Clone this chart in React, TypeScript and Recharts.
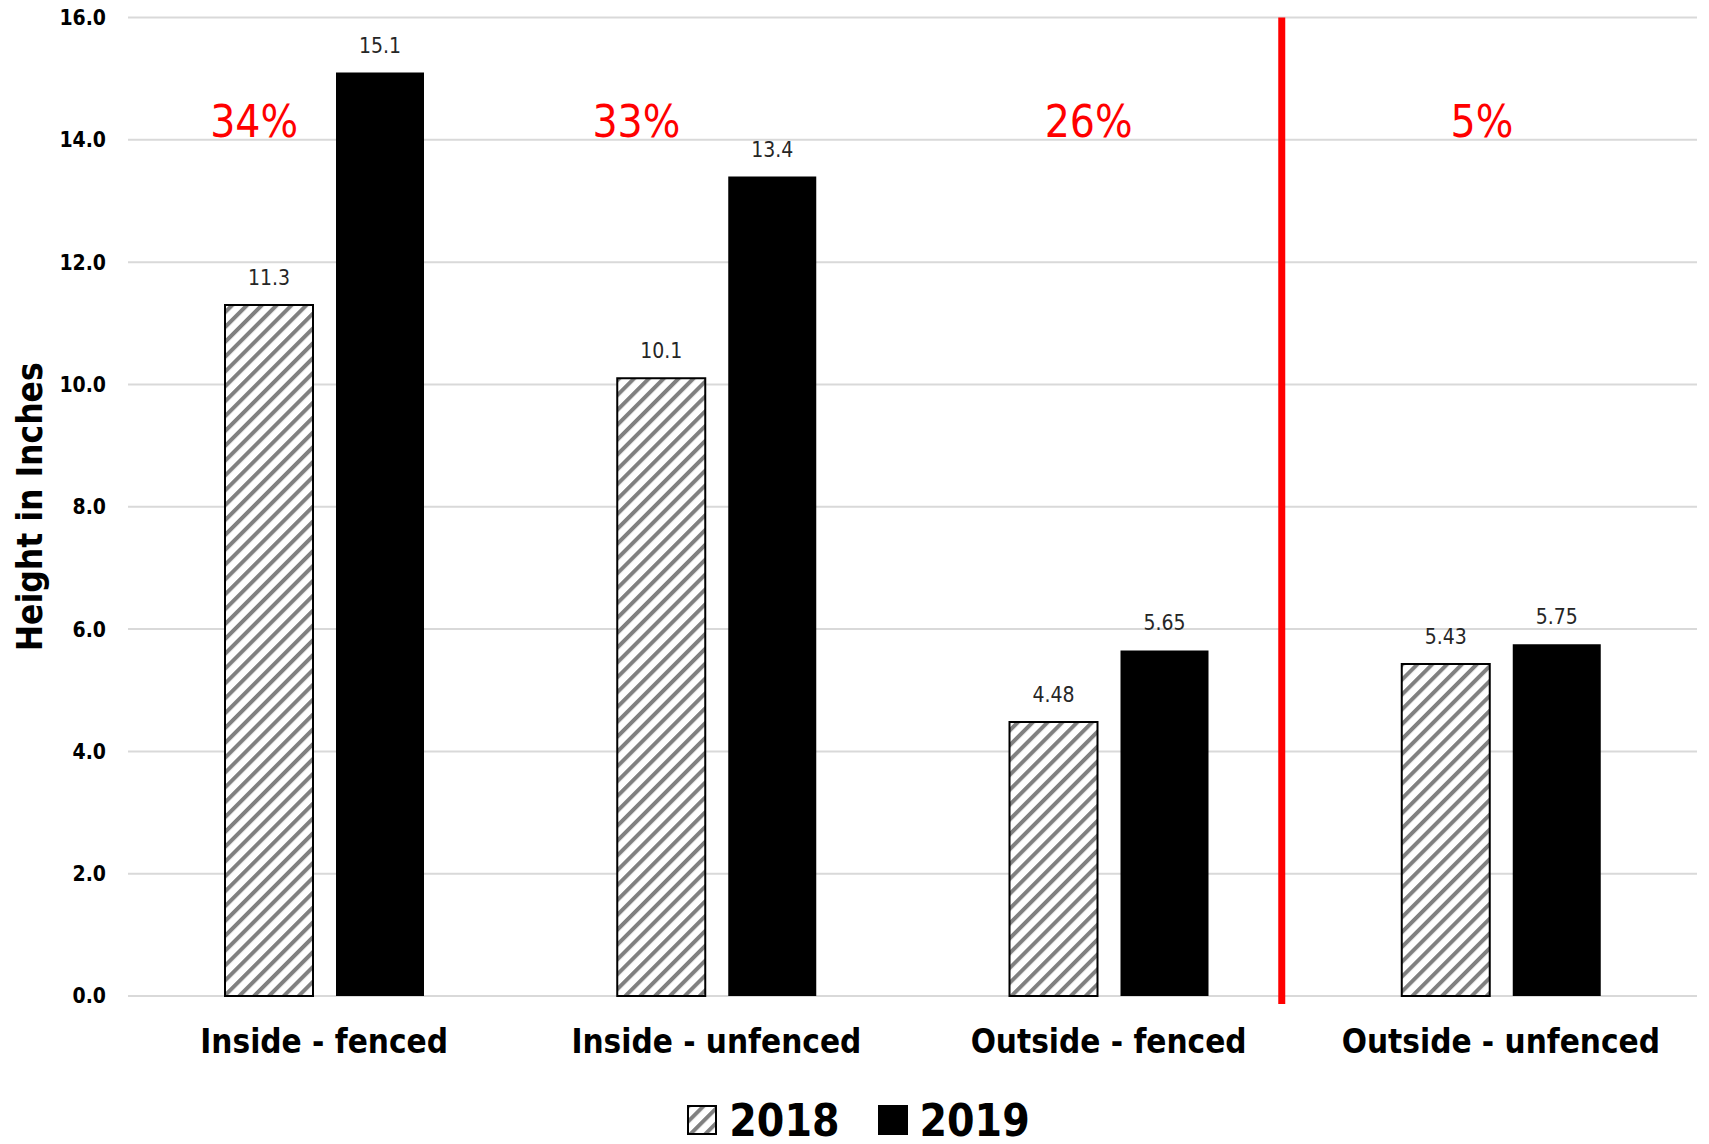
import {
  Bar,
  BarChart,
  CartesianGrid,
  LabelList,
  Legend,
  ReferenceDot,
  ReferenceLine,
  XAxis,
  YAxis,
} from "recharts";

const categories = [
  "Inside - fenced",
  "Inside - unfenced",
  "Outside - fenced",
  "Outside - unfenced",
];
const values2018 = [11.3, 10.1, 4.48, 5.43];
const values2019 = [15.1, 13.4, 5.65, 5.75];
const changeLabels = ["34%", "33%", "26%", "5%"];
const changeLabelY = 14.3;
const yTicks = [0, 2, 4, 6, 8, 10, 12, 14, 16];
const seriesNames = ["2018", "2019"];

// small horizontal nudges for the red % labels (pixels)
const changeDx = [-70, -80, -20, -19];

const data = categories.map((name, i) => ({
  name,
  y2018: values2018[i],
  y2019: values2019[i],
}));

const FONT = "'Liberation Sans Narrow', 'DejaVu Sans Condensed', 'Noto Sans', sans-serif";

function HatchIcon({ size }: { size: number }) {
  return (
    <svg width={size} height={size}>
      <defs>
        <pattern
          id="hatchLegend"
          patternUnits="userSpaceOnUse"
          width={10.5}
          height={10.5}
          patternTransform="rotate(45)"
        >
          <rect width={10.5} height={10.5} fill="#fff" />
          <line x1={0} y1={0} x2={0} y2={10.5} stroke="#808080" strokeWidth={8} />
        </pattern>
      </defs>
      <rect x={1} y={1} width={size - 2} height={size - 2} fill="url(#hatchLegend)" stroke="#000" strokeWidth={2} />
    </svg>
  );
}

function LegendContent() {
  return (
    <div
      style={{
        display: "flex",
        justifyContent: "center",
        alignItems: "center",
        height: 60,
        paddingTop: 12,
        boxSizing: "border-box",
        fontFamily: FONT,
        fontWeight: "bold",
        fontSize: 44,
        color: "#000",
      }}
    >
      <div style={{ display: "flex", alignItems: "center", marginRight: 38, marginLeft: 20 }}>
        <HatchIcon size={30} />
        <span style={{ marginLeft: 12 }}>{seriesNames[0]}</span>
      </div>
      <div style={{ display: "flex", alignItems: "center" }}>
        <svg width={30} height={30}>
          <rect width={30} height={30} fill="#000" />
        </svg>
        <span style={{ marginLeft: 12 }}>{seriesNames[1]}</span>
      </div>
    </div>
  );
}

export default function App() {
  return (
    <div style={{ position: "absolute", left: 0, top: 0, fontFamily: FONT }}>
      <BarChart
        width={1709}
        height={1144}
        data={data}
        margin={{ top: 17.5, right: 12, left: 0, bottom: 0 }}
        barSize={88}
        barGap={23}
      >
        <defs>
          <pattern
            id="hatch"
            patternUnits="userSpaceOnUse"
            width={10.5}
            height={10.5}
            patternTransform="rotate(45)"
          >
            <rect width={10.5} height={10.5} fill="#fff" />
            <line x1={0} y1={0} x2={0} y2={10.5} stroke="#808080" strokeWidth={8} />
          </pattern>
        </defs>
        <CartesianGrid vertical={false} stroke="#d9d9d9" strokeWidth={2} />
        <XAxis
          dataKey="name"
          axisLine={false}
          tickLine={false}
          tickSize={0}
          tickMargin={34}
          height={88}
          tick={{ fontSize: 33, fontWeight: "bold", fill: "#000" }}
        />
        <YAxis
          domain={[0, 16]}
          ticks={yTicks}
          width={128}
          axisLine={false}
          tickLine={false}
          tickSize={0}
          tickMargin={22}
          tickFormatter={(v: number) => v.toFixed(1)}
          tick={{ fontSize: 21, fontWeight: "bold", fill: "#000" }}
          label={{
            value: "Height in Inches",
            angle: -90,
            position: "insideLeft",
            offset: 30,
            style: { textAnchor: "middle", fontSize: 35, fontWeight: "bold", fill: "#000" },
          }}
        />
        <Legend verticalAlign="bottom" height={60} content={() => <LegendContent />} />
        <Bar
          dataKey="y2018"
          name={seriesNames[0]}
          fill="url(#hatch)"
          stroke="#000"
          strokeWidth={2}
          isAnimationActive={false}
        >
          <LabelList
            dataKey="y2018"
            position="top"
            offset={20}
            formatter={(v: number) => v.toPrecision(3)}
            style={{ fontSize: 21, fill: "#262626" }}
          />
        </Bar>
        <Bar dataKey="y2019" name={seriesNames[1]} fill="#000" isAnimationActive={false}>
          <LabelList
            dataKey="y2019"
            position="top"
            offset={20}
            formatter={(v: number) => v.toPrecision(3)}
            style={{ fontSize: 21, fill: "#262626" }}
          />
        </Bar>
        <ReferenceLine
          x={categories[3]}
          position="start"
          shape={(p: any) => (
            <line
              x1={p.x1 - 23}
              x2={p.x2 - 23}
              y1={Math.min(p.y1, p.y2)}
              y2={Math.max(p.y1, p.y2) + 8}
              stroke="#ff0000"
              strokeWidth={7}
            />
          )}
        />
        {categories.map((c, i) => (
          <ReferenceDot
            key={c}
            x={c}
            y={changeLabelY}
            r={1}
            fillOpacity={0}
            strokeOpacity={0}
            label={{
              content: (lp: any) => {
                const vb = lp.viewBox || {};
                const cx = (vb.x ?? 0) + (vb.width ?? 0) / 2 + changeDx[i];
                const cy = (vb.y ?? 0) + (vb.height ?? 0) / 2;
                return (
                  <text
                    x={cx}
                    y={cy}
                    textAnchor="middle"
                    dominantBaseline="central"
                    fill="#ff0000"
                    fontSize={44}
                    fontFamily={FONT}
                  >
                    {changeLabels[i]}
                  </text>
                );
              },
            }}
          />
        ))}
      </BarChart>
    </div>
  );
}
